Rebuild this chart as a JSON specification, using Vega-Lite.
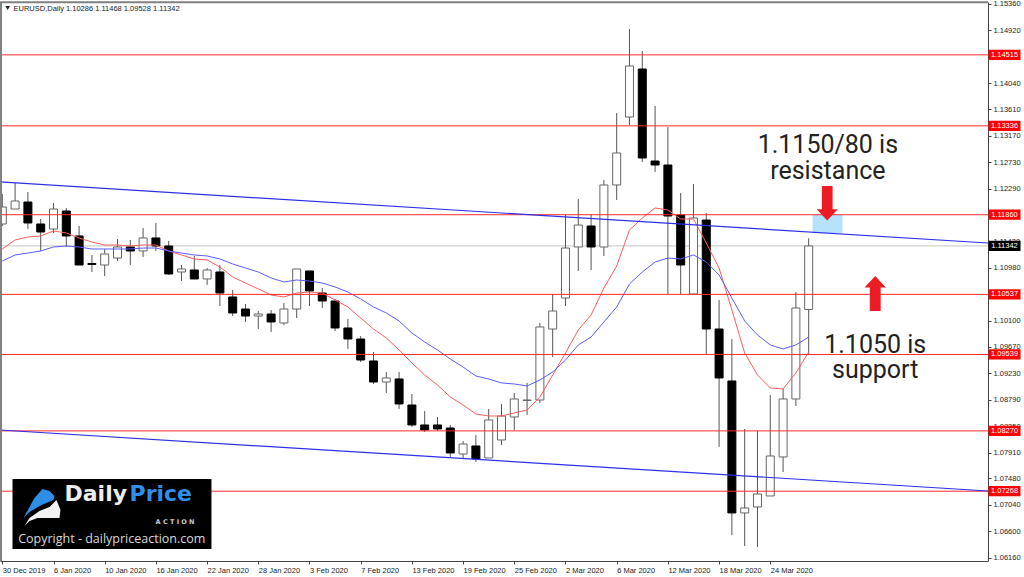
{
  "$schema": "https://vega.github.io/schema/vega-lite/v6.json",
  "width": 988,
  "height": 559,
  "autosize": {"type": "none"},
  "padding": {"left": 0, "top": 2, "right": 36, "bottom": 16},
  "background": "#ffffff",
  "config": {"view": {"stroke": null}, "text": {"font": "Liberation Sans"}},
  "datasets": {
    "bars": [
      {"d":0,"o":1.11706,"h":1.12204,"l":1.11673,"c":1.11988,"fast":1.11291,"slow":1.11092},
      {"d":1,"o":1.11955,"h":1.12387,"l":1.11955,"c":1.12088,"fast":1.11440,"slow":1.11191},
      {"d":2,"o":1.12071,"h":1.12237,"l":1.11623,"c":1.11723,"fast":1.11490,"slow":1.11224},
      {"d":3,"o":1.11706,"h":1.11789,"l":1.11258,"c":1.11573,"fast":1.11507,"slow":1.11258},
      {"d":4,"o":1.11623,"h":1.12055,"l":1.11557,"c":1.11955,"fast":1.11590,"slow":1.11324},
      {"d":5,"o":1.11922,"h":1.11972,"l":1.11324,"c":1.11507,"fast":1.11557,"slow":1.11341},
      {"d":6,"o":1.11507,"h":1.11673,"l":1.11025,"c":1.11025,"fast":1.11474,"slow":1.11324},
      {"d":7,"o":1.11050,"h":1.11191,"l":1.10909,"c":1.11033,"fast":1.11407,"slow":1.11291},
      {"d":8,"o":1.11025,"h":1.11291,"l":1.10842,"c":1.11208,"fast":1.11357,"slow":1.11291},
      {"d":9,"o":1.11141,"h":1.11457,"l":1.11092,"c":1.11324,"fast":1.11357,"slow":1.11291},
      {"d":10,"o":1.11324,"h":1.11440,"l":1.11025,"c":1.11258,"fast":1.11341,"slow":1.11291},
      {"d":11,"o":1.11258,"h":1.11640,"l":1.11158,"c":1.11474,"fast":1.11357,"slow":1.11307},
      {"d":12,"o":1.11474,"h":1.11723,"l":1.11258,"c":1.11341,"fast":1.11357,"slow":1.11307},
      {"d":13,"o":1.11341,"h":1.11424,"l":1.10859,"c":1.10876,"fast":1.11258,"slow":1.11258},
      {"d":14,"o":1.10909,"h":1.11025,"l":1.10759,"c":1.10959,"fast":1.11191,"slow":1.11224},
      {"d":15,"o":1.10942,"h":1.11175,"l":1.10793,"c":1.10793,"fast":1.11125,"slow":1.11191},
      {"d":16,"o":1.10793,"h":1.10975,"l":1.10693,"c":1.10942,"fast":1.11108,"slow":1.11175},
      {"d":17,"o":1.10909,"h":1.11025,"l":1.10344,"c":1.10560,"fast":1.10992,"slow":1.11125},
      {"d":18,"o":1.10494,"h":1.10610,"l":1.10178,"c":1.10228,"fast":1.10826,"slow":1.11042},
      {"d":19,"o":1.10294,"h":1.10377,"l":1.10079,"c":1.10178,"fast":1.10726,"slow":1.10975},
      {"d":20,"o":1.10178,"h":1.10261,"l":1.09962,"c":1.10211,"fast":1.10627,"slow":1.10909},
      {"d":21,"o":1.10211,"h":1.10278,"l":1.09912,"c":1.10079,"fast":1.10527,"slow":1.10809},
      {"d":22,"o":1.10062,"h":1.10394,"l":1.10029,"c":1.10294,"fast":1.10494,"slow":1.10743},
      {"d":23,"o":1.10294,"h":1.10959,"l":1.10145,"c":1.10959,"fast":1.10560,"slow":1.10776},
      {"d":24,"o":1.10926,"h":1.10926,"l":1.10344,"c":1.10593,"fast":1.10577,"slow":1.10759},
      {"d":25,"o":1.10560,"h":1.10643,"l":1.10311,"c":1.10427,"fast":1.10560,"slow":1.10726},
      {"d":26,"o":1.10427,"h":1.10461,"l":1.09929,"c":1.09979,"fast":1.10444,"slow":1.10660},
      {"d":27,"o":1.09979,"h":1.10128,"l":1.09630,"c":1.09796,"fast":1.10328,"slow":1.10577},
      {"d":28,"o":1.09796,"h":1.09846,"l":1.09414,"c":1.09447,"fast":1.10145,"slow":1.10461},
      {"d":29,"o":1.09431,"h":1.09580,"l":1.09049,"c":1.09082,"fast":1.09962,"slow":1.10328},
      {"d":30,"o":1.09082,"h":1.09248,"l":1.08899,"c":1.09149,"fast":1.09813,"slow":1.10228},
      {"d":31,"o":1.09132,"h":1.09248,"l":1.08634,"c":1.08717,"fast":1.09614,"slow":1.10095},
      {"d":32,"o":1.08700,"h":1.08883,"l":1.08335,"c":1.08368,"fast":1.09398,"slow":1.09896},
      {"d":33,"o":1.08368,"h":1.08601,"l":1.08252,"c":1.08285,"fast":1.09198,"slow":1.09746},
      {"d":34,"o":1.08368,"h":1.08501,"l":1.08268,"c":1.08302,"fast":1.09032,"slow":1.09614},
      {"d":35,"o":1.08318,"h":1.08368,"l":1.07837,"c":1.07903,"fast":1.08833,"slow":1.09464},
      {"d":36,"o":1.07886,"h":1.08102,"l":1.07820,"c":1.08052,"fast":1.08700,"slow":1.09331},
      {"d":37,"o":1.08019,"h":1.08202,"l":1.07754,"c":1.07803,"fast":1.08551,"slow":1.09182},
      {"d":38,"o":1.07820,"h":1.08634,"l":1.07820,"c":1.08451,"fast":1.08517,"slow":1.09132},
      {"d":39,"o":1.08119,"h":1.08717,"l":1.08036,"c":1.08517,"fast":1.08517,"slow":1.09066},
      {"d":40,"o":1.08501,"h":1.08899,"l":1.08285,"c":1.08800,"fast":1.08567,"slow":1.09049},
      {"d":41,"o":1.08775,"h":1.09066,"l":1.08534,"c":1.08783,"fast":1.08617,"slow":1.09016},
      {"d":42,"o":1.08783,"h":1.10062,"l":1.08733,"c":1.09996,"fast":1.08833,"slow":1.09115},
      {"d":43,"o":1.09962,"h":1.10544,"l":1.09497,"c":1.10261,"fast":1.09198,"slow":1.09248},
      {"d":44,"o":1.10477,"h":1.11855,"l":1.10344,"c":1.11307,"fast":1.09564,"slow":1.09447},
      {"d":45,"o":1.11324,"h":1.12121,"l":1.10926,"c":1.11689,"fast":1.09946,"slow":1.09697},
      {"d":46,"o":1.11673,"h":1.11872,"l":1.10942,"c":1.11324,"fast":1.10195,"slow":1.09829},
      {"d":47,"o":1.11324,"h":1.12437,"l":1.11175,"c":1.12354,"fast":1.10643,"slow":1.10079},
      {"d":48,"o":1.12354,"h":1.13549,"l":1.12105,"c":1.12885,"fast":1.11009,"slow":1.10328},
      {"d":49,"o":1.13483,"h":1.14944,"l":1.13350,"c":1.14330,"fast":1.11606,"slow":1.10710},
      {"d":50,"o":1.14280,"h":1.14579,"l":1.12736,"c":1.12802,"fast":1.11806,"slow":1.10909},
      {"d":51,"o":1.12752,"h":1.13666,"l":1.12570,"c":1.12686,"fast":1.11972,"slow":1.11075},
      {"d":52,"o":1.12686,"h":1.13317,"l":1.10544,"c":1.11839,"fast":1.11939,"slow":1.11141},
      {"d":53,"o":1.11855,"h":1.12221,"l":1.10544,"c":1.11025,"fast":1.11789,"slow":1.11125},
      {"d":54,"o":1.10544,"h":1.12370,"l":1.10544,"c":1.11806,"fast":1.11789,"slow":1.11191},
      {"d":55,"o":1.11772,"h":1.11889,"l":1.09531,"c":1.09962,"fast":1.11390,"slow":1.11075},
      {"d":56,"o":1.09962,"h":1.10444,"l":1.08003,"c":1.09149,"fast":1.10975,"slow":1.10859},
      {"d":57,"o":1.09099,"h":1.09796,"l":1.06541,"c":1.06907,"fast":1.10278,"slow":1.10477},
      {"d":58,"o":1.06907,"h":1.08302,"l":1.06359,"c":1.06990,"fast":1.09564,"slow":1.10095},
      {"d":59,"o":1.07006,"h":1.08268,"l":1.06342,"c":1.07222,"fast":1.09198,"slow":1.09863},
      {"d":60,"o":1.07189,"h":1.08866,"l":1.07189,"c":1.07853,"fast":1.08982,"slow":1.09697},
      {"d":61,"o":1.07837,"h":1.08966,"l":1.07587,"c":1.08800,"fast":1.08966,"slow":1.09630},
      {"d":62,"o":1.08800,"h":1.10577,"l":1.08684,"c":1.10311,"fast":1.09232,"slow":1.09697},
      {"d":63,"o":1.10286,"h":1.11468,"l":1.09528,"c":1.11342,"fast":1.09580,"slow":1.09829}
    ],
    "hlines": [
      {"d":78.3,"p":1.14515,"tag":"1.14515"},
      {"d":78.3,"p":1.13336,"tag":"1.13336"},
      {"d":78.3,"p":1.11860,"tag":"1.11860"},
      {"d":78.3,"p":1.10537,"tag":"1.10537"},
      {"d":78.3,"p":1.09539,"tag":"1.09539"},
      {"d":78.3,"p":1.08270,"tag":"1.08270"},
      {"d":78.3,"p":1.07268,"tag":"1.07268"}
    ],
    "trend": [
      {"line":"upper","d":-0.18,"p":1.12404},
      {"line":"upper","d":77.01,"p":1.11390},
      {"line":"lower","d":-0.18,"p":1.08285},
      {"line":"lower","d":77.01,"p":1.07272}
    ]
  },
  "encoding": {
    "x": {
      "field": "d",
      "type": "quantitative",
      "scale": {"domain": [-0.18, 77.01], "nice": false, "zero": false, "padding": 0},
      "axis": {
        "title": null,
        "grid": false,
        "values": [0, 4, 8, 12, 16, 20, 24, 28, 32, 36, 40, 44, 48, 52, 56, 60],
        "labelExpr": "['30 Dec 2019','6 Jan 2020','10 Jan 2020','16 Jan 2020','22 Jan 2020','28 Jan 2020','3 Feb 2020','7 Feb 2020','13 Feb 2020','19 Feb 2020','25 Feb 2020','2 Mar 2020','6 Mar 2020','12 Mar 2020','18 Mar 2020','24 Mar 2020'][datum.value / 4]",
        "labelAlign": "left",
        "labelFont": "Liberation Sans",
        "labelFontSize": 7.5,
        "labelColor": "#222222",
        "labelPadding": 2,
        "labelOverlap": false,
        "labelFlush": false,
        "tickSize": 3,
        "tickColor": "#444444",
        "domainColor": "#444444"
      }
    },
    "y": {
      "field": "c",
      "type": "quantitative",
      "scale": {"domain": [1.06109, 1.15393], "nice": false, "zero": false, "padding": 0},
      "axis": {
        "title": null,
        "orient": "right",
        "grid": false,
        "values": [1.1536, 1.1492, 1.1404, 1.1361, 1.1317, 1.1273, 1.1229, 1.1142, 1.1098, 1.101, 1.0967, 1.0923, 1.0879, 1.0835, 1.0791, 1.0748, 1.0704, 1.066, 1.0616],
        "format": ".5f",
        "labelFont": "Liberation Sans",
        "labelFontSize": 7.5,
        "labelColor": "#222222",
        "labelPadding": 2,
        "labelOverlap": false,
        "labelFlush": false,
        "tickSize": 3,
        "tickColor": "#444444",
        "domainColor": "#444444"
      }
    }
  },
  "layer": [
    {
      "data": {"values": [{"d": 63.3, "d2": 65.64, "p": 1.1186, "p2": 1.11557}]},
      "mark": {"type": "rect", "color": "#b5e1fb"},
      "encoding": {
        "x2": {"field": "d2"},
        "y": {"field": "p", "type": "quantitative"},
        "y2": {"field": "p2"}
      }
    },
    {
      "data": {"values": [{"d": -0.18, "d2": 77.01, "p": 1.11342}]},
      "mark": {"type": "rule", "color": "#c4c4c4", "strokeWidth": 1},
      "encoding": {
        "x2": {"field": "d2"},
        "y": {"field": "p", "type": "quantitative"}
      }
    },
    {
      "data": {"name": "bars"},
      "mark": {"type": "rule", "color": "#555555", "strokeWidth": 1},
      "encoding": {
        "y": {"field": "h", "type": "quantitative"},
        "y2": {"field": "l"}
      }
    },
    {
      "data": {"name": "bars"},
      "mark": {"type": "bar", "size": 8, "strokeWidth": 1},
      "encoding": {
        "y2": {"field": "o"},
        "fill": {"condition": {"test": "datum.c >= datum.o", "value": "#ffffff"}, "value": "#000000"},
        "stroke": {"condition": {"test": "datum.c >= datum.o", "value": "#666666"}, "value": "#000000"}
      }
    },
    {
      "data": {"name": "bars"},
      "mark": {"type": "line", "color": "#ff5c5c", "strokeWidth": 1},
      "encoding": {"y": {"field": "fast", "type": "quantitative"}}
    },
    {
      "data": {"name": "bars"},
      "mark": {"type": "line", "color": "#5c5cff", "strokeWidth": 1},
      "encoding": {"y": {"field": "slow", "type": "quantitative"}}
    },
    {
      "data": {"name": "hlines"},
      "mark": {"type": "rule", "color": "#ff2a2a", "strokeWidth": 1},
      "encoding": {
        "x": {"datum": -0.18, "type": "quantitative"},
        "x2": {"datum": 77.01},
        "y": {"field": "p", "type": "quantitative"}
      }
    },
    {
      "data": {"name": "trend"},
      "mark": {"type": "line", "color": "#2f2fe8", "strokeWidth": 1.2},
      "encoding": {
        "y": {"field": "p", "type": "quantitative"},
        "detail": {"field": "line"}
      }
    },
    {
      "data": {"values": [{"d": -0.1, "p": 1.15393, "p2": 1.06109}]},
      "mark": {"type": "rule", "color": "#808080", "strokeWidth": 2},
      "encoding": {
        "y": {"field": "p", "type": "quantitative"},
        "y2": {"field": "p2"}
      }
    },
    {
      "data": {"values": [{"d": -0.18, "d2": 77.01, "p": 1.1539}]},
      "mark": {"type": "rule", "color": "#808080", "strokeWidth": 2},
      "encoding": {
        "x2": {"field": "d2"},
        "y": {"field": "p", "type": "quantitative"}
      }
    },
    {
      "data": {"values": [
        {"d": 64.5, "p": 1.13018, "t": ["1.1150/80 is", "resistance"]},
        {"d": 68.2, "p": 1.09697, "t": ["1.1050 is", "support"]}
      ]},
      "mark": {"type": "text", "font": "Roboto", "fontSize": 25, "lineHeight": 25.5, "color": "#222222", "align": "center", "baseline": "middle"},
      "encoding": {
        "y": {"field": "p", "type": "quantitative"},
        "text": {"field": "t"}
      }
    },
    {
      "data": {"values": [{"d": 64.45, "p": 1.1205}]},
      "mark": {"type": "point", "shape": "M-0.31,-1L0.31,-1L0.31,0.35L0.61,0.35L0,1L-0.61,0.35L-0.31,0.35Z", "size": 1190, "filled": true, "color": "#ec1c24", "opacity": 1, "strokeWidth": 0},
      "encoding": {"y": {"field": "p", "type": "quantitative"}}
    },
    {
      "data": {"values": [{"d": 68.2, "p": 1.1055}]},
      "mark": {"type": "point", "shape": "M-0.31,1L0.31,1L0.31,-0.35L0.61,-0.35L0,-1L-0.61,-0.35L-0.31,-0.35Z", "size": 1225, "filled": true, "color": "#ec1c24", "opacity": 1, "strokeWidth": 0},
      "encoding": {"y": {"field": "p", "type": "quantitative"}}
    },
    {
      "data": {"values": [{"d": 0.797, "d2": 16.34, "p": 1.07472, "p2": 1.06309}]},
      "mark": {"type": "rect", "color": "#000000"},
      "encoding": {
        "x2": {"field": "d2"},
        "y": {"field": "p", "type": "quantitative"},
        "y2": {"field": "p2"}
      }
    },
    {
      "data": {"values": [{"d": 3.06, "p": 1.07006}]},
      "mark": {"type": "point", "shape": "M-0.9,0.55L-0.35,-0.45L0.05,-0.9L0.4,-0.8L0.65,-0.55L0.6,-0.35L0,-0.1L-0.6,0.25Z", "size": 1600, "filled": true, "color": "#2f8fe6", "opacity": 1, "strokeWidth": 0},
      "encoding": {"y": {"field": "p", "type": "quantitative"}}
    },
    {
      "data": {"values": [{"d": 3.06, "p": 1.07006}]},
      "mark": {"type": "point", "shape": "M-0.85,0.95L-0.6,0.55L-0.1,0.2L0.4,0L0.75,-0.35L0.95,0.15L0.9,0.55L0.4,0.55L-0.2,0.55L-0.6,0.7Z", "size": 1600, "filled": true, "color": "#f2f2f2", "opacity": 1, "strokeWidth": 0},
      "encoding": {"y": {"field": "p", "type": "quantitative"}}
    },
    {
      "data": {"values": [{"d": 4.86, "p": 1.0711, "t": "Daily"}]},
      "mark": {"type": "text", "font": "DejaVu Sans", "fontWeight": "bold", "fontSize": 22, "color": "#ededed", "align": "left", "baseline": "alphabetic"},
      "encoding": {
        "y": {"field": "p", "type": "quantitative"},
        "text": {"field": "t"}
      }
    },
    {
      "data": {"values": [{"d": 9.94, "p": 1.0711, "t": "Price"}]},
      "mark": {"type": "text", "font": "DejaVu Sans", "fontWeight": "bold", "fontSize": 22, "color": "#2f8fe6", "align": "left", "baseline": "alphabetic"},
      "encoding": {
        "y": {"field": "p", "type": "quantitative"},
        "text": {"field": "t"}
      }
    },
    {
      "data": {"values": [{"d": 15.02, "p": 1.0675, "t": "A C T I O N"}]},
      "mark": {"type": "text", "font": "DejaVu Sans", "fontWeight": "bold", "fontSize": 6.5, "color": "#c8c8c8", "align": "right", "baseline": "middle"},
      "encoding": {
        "y": {"field": "p", "type": "quantitative"},
        "text": {"field": "t"}
      }
    },
    {
      "data": {"values": [{"d": 8.55, "p": 1.06475, "t": "Copyright - dailypriceaction.com"}]},
      "mark": {"type": "text", "font": "Open Sans", "fontSize": 12.5, "color": "#d8d8d8", "align": "center", "baseline": "middle"},
      "encoding": {
        "y": {"field": "p", "type": "quantitative"},
        "text": {"field": "t"}
      }
    },
    {
      "data": {"values": [{"d": 0.875, "p": 1.15277, "t": "EURUSD,Daily  1.10286 1.11468 1.09528 1.11342"}]},
      "mark": {"type": "text", "fontSize": 7.5, "color": "#222222", "align": "left", "baseline": "middle"},
      "encoding": {
        "y": {"field": "p", "type": "quantitative"},
        "text": {"field": "t"}
      }
    },
    {
      "data": {"values": [{"d": 0.42, "p": 1.15293}]},
      "mark": {"type": "point", "shape": "triangle-down", "size": 22, "filled": true, "color": "#222222", "opacity": 1, "strokeWidth": 0},
      "encoding": {"y": {"field": "p", "type": "quantitative"}}
    },
    {
      "data": {"name": "hlines"},
      "mark": {"type": "point", "shape": "M-1,-0.32L1,-0.32L1,0.32L-1,0.32Z", "size": 1024, "filled": true, "color": "#ff0000", "opacity": 1, "strokeWidth": 0},
      "encoding": {"y": {"field": "p", "type": "quantitative"}}
    },
    {
      "data": {"name": "hlines"},
      "mark": {"type": "text", "fontSize": 7.5, "color": "#ffffff", "align": "center", "baseline": "middle"},
      "encoding": {
        "y": {"field": "p", "type": "quantitative"},
        "text": {"field": "tag"}
      }
    },
    {
      "data": {"values": [{"d": 78.3, "p": 1.11342, "tag": "1.11342"}]},
      "mark": {"type": "point", "shape": "M-1,-0.32L1,-0.32L1,0.32L-1,0.32Z", "size": 1024, "filled": true, "color": "#000000", "opacity": 1, "strokeWidth": 0},
      "encoding": {"y": {"field": "p", "type": "quantitative"}}
    },
    {
      "data": {"values": [{"d": 78.3, "p": 1.11342, "tag": "1.11342"}]},
      "mark": {"type": "text", "fontSize": 7.5, "color": "#ffffff", "align": "center", "baseline": "middle"},
      "encoding": {
        "y": {"field": "p", "type": "quantitative"},
        "text": {"field": "tag"}
      }
    }
  ]
}
